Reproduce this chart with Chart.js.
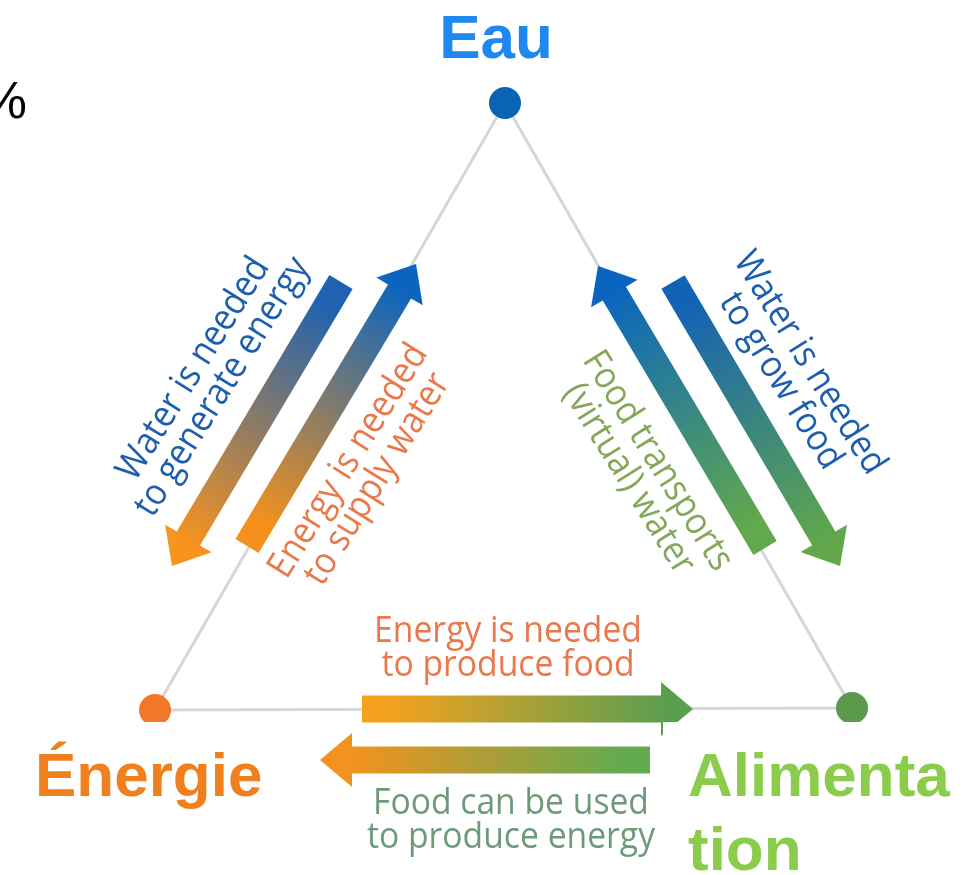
<!DOCTYPE html>
<html><head><meta charset="utf-8">
<script src="https://cdn.jsdelivr.net/npm/chart.js@4"></script>
<style>html,body{margin:0;padding:0;background:#fff}#c{display:block}</style>
</head><body>
<canvas id="c" width="963" height="875"></canvas>
<script>
// ---- data ----
const nodeNames = ['Eau', 'Énergie', 'Alimenta\ntion'];
const nodeX = [505, 155, 852];
const nodeY = [103, 710, 708];
const nodeColors = ['#0a64b4', '#f07828', '#5a9a4c'];
const labelColors = ['#1f88ee', '#f0801e', '#8ccc4c'];

const linkTexts = [
  'Water is needed\nto generate energy',
  'Energy is needed\nto supply water',
  'Food transports\n(virtual) water',
  'Water is needed\nto grow food',
  'Energy is needed\nto produce food',
  'Food can be used\nto produce energy'
];
const linkFrom = [[341, 282], [247, 546], [765, 548], [673, 282], [362, 709], [650, 760]];
const linkTo   = [[172, 566], [416, 264], [598, 266], [840, 566], [693, 709], [320, 760]];
const linkFromColor = ['#1f62b0', '#f4911c', '#62a84c', '#1462b4', '#f4a21e', '#64aa50'];
const linkToColor   = ['#f7931e', '#0a64c0', '#0a64c0', '#62a84a', '#5a9e50', '#f4921e'];
const linkTextColor = ['#1d5fae', '#ea784a', '#84a85a', '#1d5fae', '#ea784c', '#6e9a7a'];

// ---- layout (label anchors) ----
const linkTextAt = [[208, 378], [363, 470], [643, 470], [795, 372], [508, 648], [511, 820]];
const linkTextRot = [-58, -58, 58, 58, 0, 0];
const lineGap = 34;

function arrow(ctx, x1, y1, x2, y2, c1, c2) {
  const dx = x2 - x1, dy = y2 - y1, L = Math.hypot(dx, dy);
  const ux = dx / L, uy = dy / L, px = -uy, py = ux;
  const w = 13.5, hw = 27, hl = 32;
  const bx = x2 - ux * hl, by = y2 - uy * hl;
  const g = ctx.createLinearGradient(x1, y1, x2, y2);
  g.addColorStop(0, c1); g.addColorStop(0.08, c1); g.addColorStop(0.92, c2); g.addColorStop(1, c2);
  ctx.beginPath();
  ctx.moveTo(x1 + px * w, y1 + py * w);
  ctx.lineTo(bx + px * w, by + py * w);
  ctx.lineTo(bx + px * hw, by + py * hw);
  ctx.lineTo(x2, y2);
  ctx.lineTo(bx - px * hw, by - py * hw);
  ctx.lineTo(bx - px * w, by - py * w);
  ctx.lineTo(x1 - px * w, y1 - py * w);
  ctx.closePath();
  ctx.fillStyle = g;
  ctx.fill();
}

const diagram = {
  id: 'diagram',
  afterDatasetDraw(chart, args) {
    if (args.index !== 0) return;
    const ctx = chart.ctx, xs = chart.scales.x, ys = chart.scales.y;
    ctx.save();
    for (let i = 0; i < linkFrom.length; i++) {
      arrow(ctx,
        xs.getPixelForValue(linkFrom[i][0]), ys.getPixelForValue(linkFrom[i][1]),
        xs.getPixelForValue(linkTo[i][0]), ys.getPixelForValue(linkTo[i][1]),
        linkFromColor[i], linkToColor[i]);
    }
    ctx.restore();
  },
  afterDatasetsDraw(chart) {
    const ctx = chart.ctx, xs = chart.scales.x, ys = chart.scales.y;
    ctx.save();
    // white label panels
    ctx.fillStyle = '#ffffff';
    ctx.fillRect(0, 722, 300, 153);
    ctx.fillRect(663, 722, 300, 153);
    // link texts
    ctx.font = '500 37px "Open Sans"';
    ctx.textAlign = 'center';
    ctx.textBaseline = 'middle';
    for (let i = 0; i < linkTexts.length; i++) {
      const lines = linkTexts[i].split('\n');
      ctx.save();
      ctx.translate(xs.getPixelForValue(linkTextAt[i][0]), ys.getPixelForValue(linkTextAt[i][1]));
      ctx.rotate(linkTextRot[i] * Math.PI / 180);
      ctx.scale(0.91, 1);
      ctx.fillStyle = linkTextColor[i];
      lines.forEach((t, k) => ctx.fillText(t, 0, (k - (lines.length - 1) / 2) * lineGap));
      ctx.restore();
    }
    // node titles
    ctx.font = 'bold 62px "Liberation Sans", Arial, sans-serif';
    ctx.textBaseline = 'alphabetic';
    ctx.fillStyle = labelColors[0];
    ctx.textAlign = 'center';
    ctx.fillText(nodeNames[0], 496, 58);
    ctx.textAlign = 'left';
    ctx.fillStyle = labelColors[1];
    ctx.fillText(nodeNames[1], 35, 796);
    ctx.fillStyle = labelColors[2];
    nodeNames[2].split('\n').forEach((t, k) => ctx.fillText(t, 688, 796 + k * 74));
    // clipped glyph at top-left
    ctx.font = '52px "Liberation Sans", Arial, sans-serif';
    ctx.fillStyle = '#000';
    ctx.textAlign = 'right';
    ctx.fillText('%', 27, 118);
    ctx.restore();
  }
};

const edgePts = [0, 1, 2, 0].map(i => ({x: nodeX[i], y: nodeY[i]}));
const nodePts = nodeX.map((x, i) => ({x, y: nodeY[i]}));

new Chart(document.getElementById('c'), {
  type: 'scatter',
  data: {
    datasets: [
      { data: edgePts, showLine: true, borderColor: '#d6d6d6', borderWidth: 3, pointRadius: 0, order: 2, clip: false },
      { data: nodePts, pointRadius: 16, pointBackgroundColor: nodeColors, pointBorderWidth: 0, pointHoverRadius: 16, order: 1, clip: false }
    ]
  },
  options: {
    responsive: false,
    animation: false,
    events: [],
    layout: { padding: 0, autoPadding: false },
    plugins: { legend: { display: false }, tooltip: { enabled: false } },
    scales: {
      x: { type: 'linear', min: 0, max: 963, display: false, grace: 0 },
      y: { type: 'linear', min: 0, max: 875, reverse: true, display: false, grace: 0 }
    }
  },
  plugins: [diagram]
});
</script>
</body></html>
